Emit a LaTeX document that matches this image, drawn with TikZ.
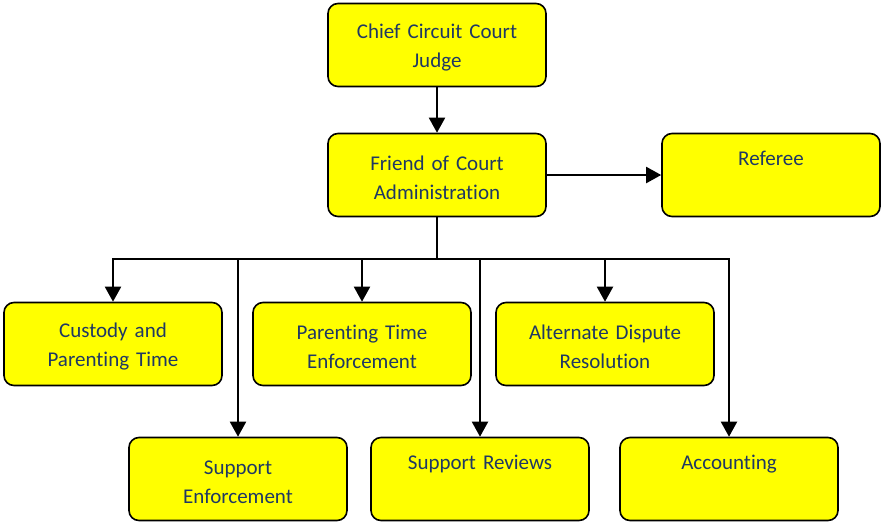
\documentclass[tikz,border=0pt]{standalone}
\usepackage{fontspec}
\setmainfont{Carlito}[Ligatures={NoCommon}]
\usetikzlibrary{arrows.meta}
\definecolor{boxtext}{HTML}{1F3864}
\definecolor{boxfill}{RGB}{255,255,0}
\tikzstyle{office} = [draw=black, line width=1.6pt, fill=boxfill, rounded corners=10pt,
  minimum width=218pt, minimum height=83pt, text width=210pt, align=center,
  text height=20pt, text=boxtext, font={\fontsize{21}{29.5}\selectfont}]
\tikzstyle{link} = [draw=black, line width=2pt, -{Triangle[length=15pt,width=16pt]}]

\begin{document}
\begin{tikzpicture}[x=1pt,y=-1pt]
        \useasboundingbox (0,0) rectangle (883,523);
        \node[office](judge) at (437,45){Chief Circuit Court\\Judge};
        \node[office](foc) at (437,175){Friend of Court\\Administration};
        \node[office](referee) at (771,175){Referee\\\strut};
        \node[office](custody) at (113,344){Custody and\\Parenting Time};
        \node[office](ptenf) at (362,344){Parenting Time\\Enforcement};
        \node[office](adr) at (605,344){Alternate Dispute\\Resolution};
        \node[office](suppenf) at (238,479){Support\\Enforcement};
        \node[office](reviews) at (480,479){Support Reviews\\\strut};
        \node[office](accounting) at (729,479){Accounting\\\strut};
        \coordinate (bus) at (437,259);
        \draw[link](judge)--(foc);
        \draw[link](foc)--(referee);
        \foreach \unit in {custody,ptenf,adr,suppenf,reviews,accounting}
          \draw[link](foc.south)--(bus)-|(\unit.north);
      \end{tikzpicture}
\end{document}
